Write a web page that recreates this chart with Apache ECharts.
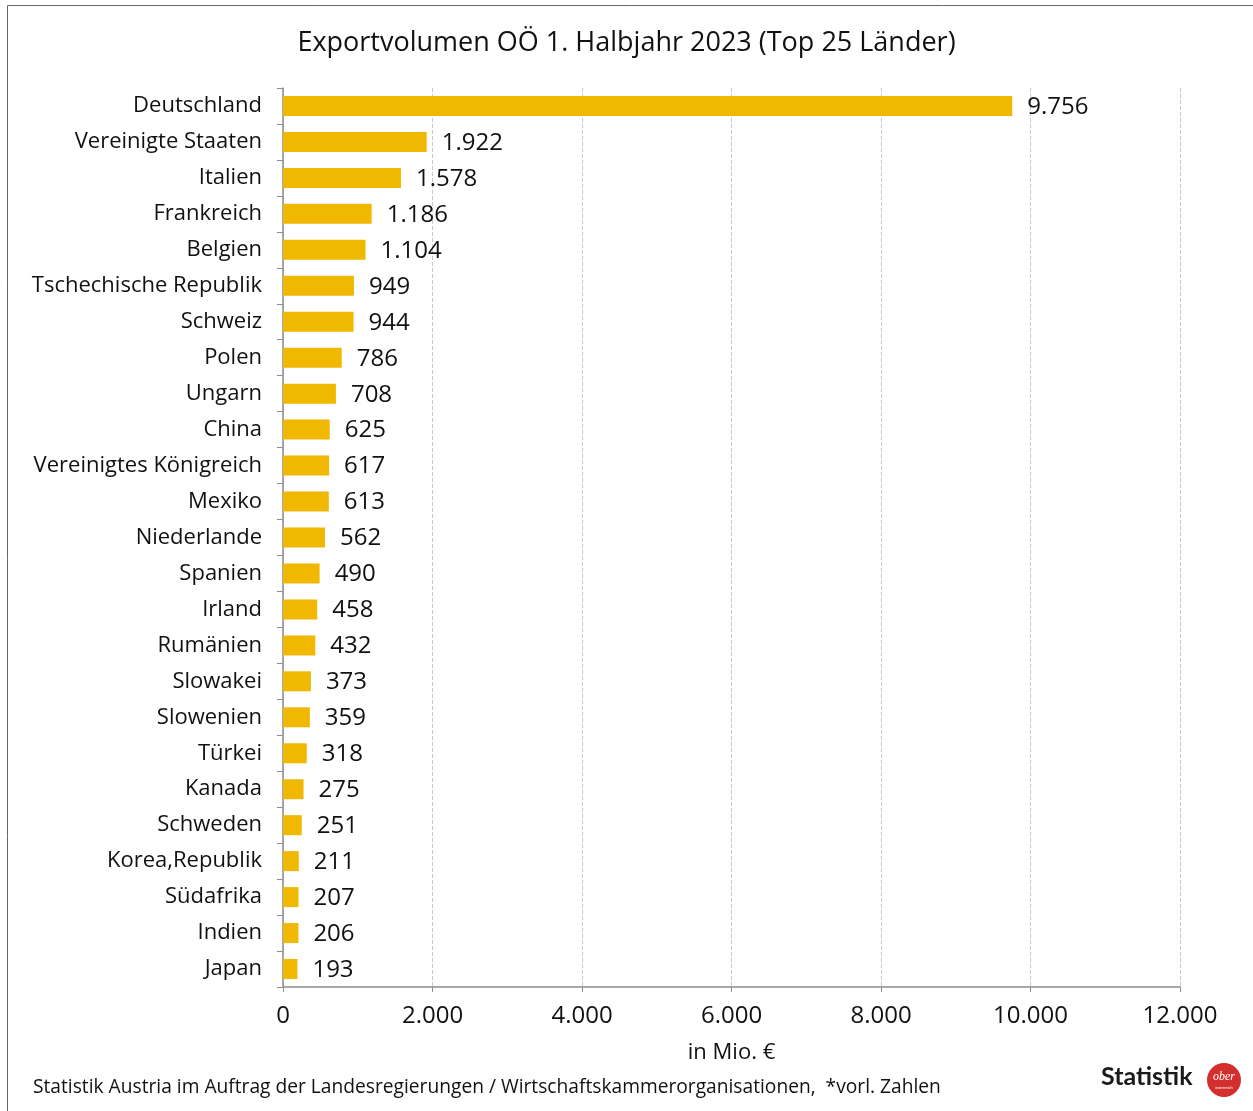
<!DOCTYPE html>
<html><head><meta charset="utf-8">
<script src="https://cdn.jsdelivr.net/npm/echarts@6/dist/echarts.min.js"></script>
<style>html,body{margin:0;padding:0;background:#fff}#c{width:1253px;height:1111px}</style>
</head><body><div id="c"></div>
<script>
const categories = ["Deutschland","Vereinigte Staaten","Italien","Frankreich","Belgien","Tschechische Republik","Schweiz","Polen","Ungarn","China","Vereinigtes Königreich","Mexiko","Niederlande","Spanien","Irland","Rumänien","Slowakei","Slowenien","Türkei","Kanada","Schweden","Korea,Republik","Südafrika","Indien","Japan"];
const values = [9756,1922,1578,1186,1104,949,944,786,708,625,617,613,562,490,458,432,373,359,318,275,251,211,207,206,193];
const xTicks = [0,2000,4000,6000,8000,10000,12000];
const titleText = "Exportvolumen OÖ 1. Halbjahr 2023 (Top 25 Länder)";
const xName = "in Mio. €";
const sourceText = "Statistik Austria im Auftrag der Landesregierungen / Wirtschaftskammerorganisationen,  *vorl. Zahlen";

const fmt = v => v.toLocaleString('de-DE');
const FONT = "'Open Sans', sans-serif";
const chart = echarts.init(document.getElementById('c'), null, {renderer:'canvas'});
chart.setOption({
  backgroundColor:'#fff',
  animation:false,
  textStyle:{fontFamily:FONT},
  title:{text:titleText,left:'center',top:25,textStyle:{fontFamily:FONT,fontWeight:'normal',fontSize:27,color:'#111'}},
  grid:{left:283,right:73,top:88,bottom:124},
  xAxis:{type:'value',min:0,max:12000,interval:2000,
    name:xName,nameLocation:'middle',nameGap:55,nameTextStyle:{fontSize:22,color:'#111',fontFamily:FONT},
    axisLine:{show:true,lineStyle:{color:'#8c8c8c',width:1.5}},
    axisTick:{show:true,length:5,lineStyle:{color:'#8c8c8c'}},
    axisLabel:{fontSize:24,color:'#111',margin:17,formatter:v=>fmt(v)},
    splitLine:{show:true,lineStyle:{color:'#c8c8c8',type:'dashed',width:1}}},
  yAxis:{type:'category',inverse:true,data:categories,
    axisLine:{show:true,lineStyle:{color:'#8c8c8c',width:1.5}},
    axisTick:{show:true,length:6,lineStyle:{color:'#8c8c8c'}},
    axisLabel:{fontSize:22,color:'#111',margin:21,padding:[4,0,0,0]}},
  series:[{type:'bar',data:values,barWidth:20,itemStyle:{color:'#F0B800'},
    label:{show:true,position:'right',distance:15,fontSize:24,color:'#111',offset:[0,1],formatter:p=>fmt(p.value)}}],
  graphic:[
    {type:'rect',shape:{x:7.5,y:5.5,width:1260,height:1120},style:{fill:'none',stroke:'#666',lineWidth:1}},
    {type:'text',left:33,top:1078,style:{text:sourceText,fontSize:19.2,fill:'#111',fontFamily:FONT}},
    {type:'text',left:1101,top:1064,style:{text:'Statistik',fontSize:25,fontWeight:'bold',fill:'#1a1a1a',fontFamily:"'Lato', sans-serif"}},
    {type:'circle',shape:{cx:1224,cy:1080,r:17},style:{fill:'#d32f2f'}},
    {type:'text',x:1224,y:1077,style:{text:'ober',fontSize:12,fontStyle:'italic',fill:'#fff',align:'center',verticalAlign:'middle',fontFamily:'serif'}},
    {type:'text',x:1224,y:1088,style:{text:'österreich',fontSize:4,fill:'#fff',align:'center',verticalAlign:'middle'}}
  ]
});
</script></body></html>
